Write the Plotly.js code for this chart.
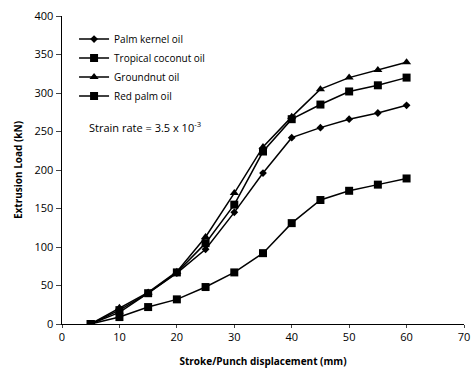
<!DOCTYPE html>
<html><head><meta charset="utf-8">
<script src="https://cdn.plot.ly/plotly-3.0.1.min.js"></script>
<style>body{margin:0;background:#fff}#c{width:473px;height:370px}</style>
</head><body><div id="c"></div>
<script>
const stroke = [5, 10, 15, 20, 25, 30, 35, 40, 45, 50, 55, 60];
const palmKernel = [0, 15, 40, 66, 97, 145, 196, 242, 255, 266, 274, 284];
const tropicalCoconut = [0, 18, 40, 67, 105, 155, 224, 266, 285, 302, 310, 320];
const groundnut = [0, 21, 41, 68, 113, 170, 230, 269, 305, 320, 330, 340];
const redPalm = [0, 9, 22, 32, 48, 67, 92, 131, 161, 173, 181, 189];
const names = ["Palm kernel oil", "Tropical coconut oil", "Groundnut oil", "Red palm oil"];
const symbols = ["diamond", "square", "triangle-up", "square"];
const sizes = [6, 8, 8, 8];
const series = [palmKernel, tropicalCoconut, groundnut, redPalm];
const traces = series.map((y, i) => ({
  x: stroke, y: y, name: names[i], type: "scatter", mode: "lines+markers",
  line: {color: "#000", width: 1.5},
  marker: {symbol: symbols[i], size: sizes[i], color: "#000"}
}));
const font = "Open Sans, DejaVu Sans, sans-serif";
Plotly.newPlot("c", traces, {
  width: 473, height: 370,
  margin: {l: 62, r: 9, t: 16, b: 46},
  paper_bgcolor: "#fff", plot_bgcolor: "#fff",
  font: {family: font, size: 11, color: "#000"},
  showlegend: true,
  legend: {x: 0.03, y: 0.972, xanchor: "left", yanchor: "top", bgcolor: "rgba(0,0,0,0)",
           font: {size: 10}, tracegroupgap: 0, itemwidth: 30},
  xaxis: {range: [0, 70], dtick: 10, showgrid: false, zeroline: false,
          showline: true, linecolor: "#000", linewidth: 1, ticks: "outside", ticklen: 3,
          tickfont: {size: 11},
          title: {text: "<b>Stroke/Punch displacement (mm)</b>", font: {size: 10}, standoff: 14}},
  yaxis: {range: [0, 400], dtick: 50, showgrid: false, zeroline: false,
          showline: true, linecolor: "#000", linewidth: 1.5, ticks: "outside", ticklen: 5,
          tickfont: {size: 11},
          title: {text: "<b>Extrusion Load (kN)</b>", font: {size: 10}, standoff: 10}},
  annotations: [{x: 0.062, y: 0.64, xref: "paper", yref: "paper", xanchor: "left", yanchor: "middle",
                 showarrow: false, text: "Strain rate = 3.5 x 10<sup>-3</sup>", font: {size: 11}}]
}, {displayModeBar: false, staticPlot: true});
</script></body></html>
